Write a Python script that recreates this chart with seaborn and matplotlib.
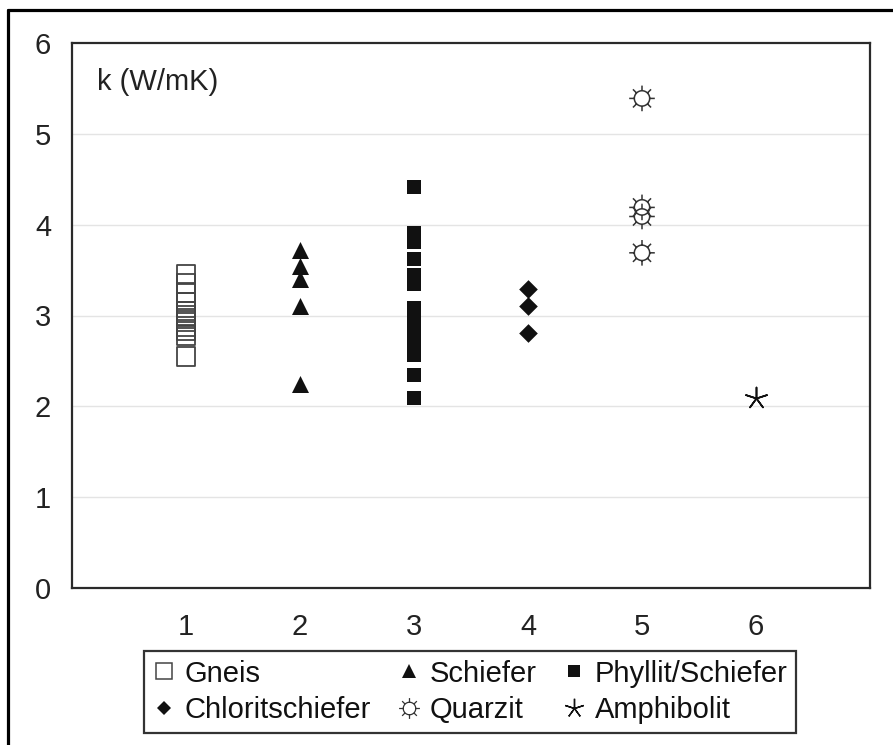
import numpy as np
import pandas as pd
import matplotlib
matplotlib.use("Agg")
import matplotlib.pyplot as plt
from matplotlib.lines import Line2D
from matplotlib.path import Path
import seaborn as sns

# ---- data ----
gneis_x = 1
gneis_k = [3.45, 3.35, 3.25, 3.15, 3.05, 3.00, 2.97, 2.93, 2.88, 2.83, 2.78, 2.55]
schiefer_x = 2
schiefer_k = [3.72, 3.55, 3.40, 3.10, 2.25]
phyllit_x = 3
phyllit_k = [4.41, 3.91, 3.81, 3.62, 3.45, 3.35, 3.08, 3.00, 2.92, 2.85, 2.78, 2.70, 2.63, 2.57, 2.35, 2.09]
chlorit_x = 4
chlorit_k = [3.29, 3.11, 2.81]
quarzit_x = 5
quarzit_k = [5.39, 4.19, 4.09, 3.69]
amphibolit_x = 6
amphibolit_k = [2.09]

x_ticks = [1, 2, 3, 4, 5, 6]
y_ticks = [0, 1, 2, 3, 4, 5, 6]
labels = ["Gneis", "Schiefer", "Phyllit/Schiefer", "Chloritschiefer", "Quarzit", "Amphibolit"]
y_label_text = "k (W/mK)"

# ---- style ----
sns.set_theme(style="white")
plt.rcParams['font.family'] = ['Liberation Sans', 'DejaVu Sans']

# sun marker: circle + 8 spokes
theta = np.linspace(0, 2 * np.pi, 40)
r0 = 0.6
verts = [(r0 * np.cos(t), r0 * np.sin(t)) for t in theta]
codes = [Path.MOVETO] + [Path.LINETO] * (len(theta) - 1)
for a in np.arange(8) * np.pi / 4:
    verts += [(r0 * np.cos(a), r0 * np.sin(a)), (np.cos(a), np.sin(a))]
    codes += [Path.MOVETO, Path.LINETO]
sun = Path(verts, codes)

fig = plt.figure(figsize=(8.93, 7.45), dpi=100)
ax = fig.add_axes([72 / 893, 1 - 588 / 745, (870 - 72) / 893, (588 - 43) / 745])

dark = "#111111"
edge = "#333333"
fs = 21

def pts(xv, ks):
    return pd.DataFrame({"x": [xv] * len(ks), "k": ks})

d = pts(gneis_x, gneis_k)
sns.scatterplot(data=d, x="x", y="k", marker="s", s=180, facecolor="none",
                edgecolor="#444444", linewidth=1.3, ax=ax, legend=False, zorder=3)
d = pts(schiefer_x, schiefer_k)
sns.scatterplot(data=d, x="x", y="k", marker="^", s=150, color=dark,
                edgecolor=dark, linewidth=0, ax=ax, legend=False, zorder=3)
d = pts(phyllit_x, phyllit_k)
sns.scatterplot(data=d, x="x", y="k", marker="s", s=110, color=dark,
                edgecolor=dark, linewidth=0, ax=ax, legend=False, zorder=3)
d = pts(chlorit_x, chlorit_k)
sns.scatterplot(data=d, x="x", y="k", marker="D", s=90, color=dark,
                edgecolor=dark, linewidth=0, ax=ax, legend=False, zorder=3)
d = pts(quarzit_x, quarzit_k)
sns.scatterplot(data=d, x="x", y="k", marker=sun, s=340, facecolor="none",
                edgecolor=edge, linewidth=1.1, ax=ax, legend=False, zorder=3)
d = pts(amphibolit_x, amphibolit_k)
sns.scatterplot(data=d, x="x", y="k", marker=(5, 2, 0), s=250, color=dark,
                linewidth=1.2, ax=ax, legend=False, zorder=3)

ax.set_xlim(0, 7)
ax.set_ylim(0, 6)
ax.set_xticks(x_ticks)
ax.set_yticks(y_ticks)
ax.set_xticklabels([str(v) for v in x_ticks])
ax.set_yticklabels([str(v) for v in y_ticks])
ax.set_xlabel("")
ax.set_ylabel("")
ax.tick_params(axis="both", length=0, labelsize=fs, colors="#222222")
ax.tick_params(axis="x", pad=18)
ax.tick_params(axis="y", pad=15)
for yv in [1, 2, 3, 4, 5]:
    ax.axhline(yv, color="#e4e4e4", linewidth=1.0, zorder=0)
for sp in ax.spines.values():
    sp.set_visible(True)
    sp.set_color("#2a2a2a")
    sp.set_linewidth(1.6)

ax.text(0.031, 0.928, y_label_text, transform=ax.transAxes, fontsize=fs,
        color="#222222", ha="left", va="center")

# legend (column-major order for ncol=3)
h_gneis = Line2D([], [], linestyle="none", marker="s", markersize=11,
                 markerfacecolor="none", markeredgecolor="#444444", markeredgewidth=1.1)
h_schiefer = Line2D([], [], linestyle="none", marker="^", markersize=10,
                    color=dark, markeredgewidth=0)
h_phyllit = Line2D([], [], linestyle="none", marker="s", markersize=8,
                   color=dark, markeredgewidth=0)
h_chlorit = Line2D([], [], linestyle="none", marker="D", markersize=7.5,
                   color=dark, markeredgewidth=0)
h_quarzit = Line2D([], [], linestyle="none", marker=sun, markersize=15,
                   markerfacecolor="none", markeredgecolor=edge, markeredgewidth=0.9)
h_amph = Line2D([], [], linestyle="none", marker=(5, 2, 0), markersize=14,
                color=dark, markeredgewidth=1.0)
handles = [h_gneis, h_chlorit, h_schiefer, h_quarzit, h_phyllit, h_amph]
labs = [labels[0], labels[3], labels[1], labels[4], labels[2], labels[5]]
leg = fig.legend(handles, labs, ncol=3, loc="center",
                 bbox_to_anchor=(470 / 893, 1 - 692 / 745),
                 bbox_transform=fig.transFigure, fontsize=fs,
                 frameon=True, fancybox=False, framealpha=1,
                 handlelength=0.8, handletextpad=0.3, columnspacing=0.9,
                 labelspacing=0.3, borderpad=0.3, borderaxespad=0)
leg.get_frame().set_edgecolor("#333333")
leg.get_frame().set_linewidth(1.6)
for t in leg.get_texts():
    t.set_color("#111111")

# outer frame (top and left visible)
fig.add_artist(Line2D([8 / 893, 8 / 893], [-0.1, 1 - 10 / 745], transform=fig.transFigure,
                      color="black", linewidth=2.3))
fig.add_artist(Line2D([8 / 893, 1.1], [1 - 10 / 745, 1 - 10 / 745], transform=fig.transFigure,
                      color="black", linewidth=2.3))

fig.savefig("out.png", dpi=100, facecolor="white")
